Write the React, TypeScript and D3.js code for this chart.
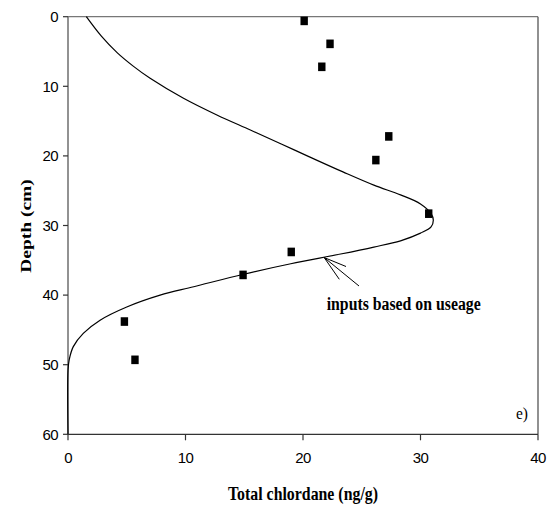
import React from "react";
import * as d3 from "d3";

// Measured samples (Total chlordane ng/g, depth cm)
const obsConc = [20.1, 22.3, 21.6, 27.3, 26.2, 30.7, 19.0, 14.9, 4.8, 5.7];
const obsDepth = [0.6, 3.9, 7.2, 17.2, 20.6, 28.3, 33.8, 37.1, 43.8, 49.3];

// Model profile "inputs based on useage"
const modelDepth = [0, 2.8, 5.2, 7.1, 8.85, 11.72, 14.12, 16.28, 18.29, 20.1, 22.3, 24.2, 25.6, 26.9, 28.3, 29.2, 30.2, 31.1, 32.2, 33.1, 34.1, 35.5, 37.0, 38.8, 40.0, 41.7, 43.6, 45.5, 47.4, 49.3, 50.8, 60];
const modelConc = [1.56, 2.84, 4.2, 5.55, 6.99, 9.83, 12.67, 15.52, 18.15, 20.5, 23.4, 26.03, 28.3, 30.0, 30.9, 31.09, 30.9, 30.0, 28.3, 26.03, 23.2, 18.96, 14.95, 10.7, 7.84, 5.0, 2.73, 1.3, 0.45, 0.1, 0, 0];

const xTicks = [0, 10, 20, 30, 40];
const yTicks = [0, 10, 20, 30, 40, 50, 60];

const xLabel = "Total chlordane (ng/g)";
const yLabel = "Depth (cm)";
const annotation = "inputs based on useage";
const panelTag = "e)";

export default function App() {
  const W = 548, H = 508;
  const left = 68, right = 538, top = 16.7, bottom = 434.3;
  const x = d3.scaleLinear().domain([0, 40]).range([left, right]);
  const y = d3.scaleLinear().domain([0, 60]).range([top, bottom]);

  const line = d3
    .line<number>()
    .x((_, i) => x(modelConc[i]))
    .y((d) => y(d))
    .curve(d3.curveCatmullRom.alpha(0.5));

  const axisCol = "#777";
  const tickFont = "Liberation Sans, Arial, sans-serif";
  const serif = "Liberation Serif, Times New Roman, serif";

  // arrow: tip on the curve near depth 34.6
  const tipX = x(21.8), tipY = y(34.6);

  return (
    <svg width={W} height={H} style={{ position: "absolute", left: 0, top: 0, background: "#fff" }}>
      <rect x={0} y={0} width={W} height={H} fill="#fff" />
      {/* frame */}
      <line x1={left} x2={right} y1={top} y2={top} stroke={axisCol} strokeWidth={1.3} />
      <line x1={right} x2={right} y1={top} y2={bottom} stroke="#555" strokeWidth={1.3} />
      <line x1={left} x2={right} y1={bottom} y2={bottom} stroke="#333" strokeWidth={1.3} />
      <line x1={left} x2={left} y1={top} y2={bottom} stroke={axisCol} strokeWidth={1.6} />
      {/* y ticks */}
      {yTicks.map((t) => (
        <g key={"y" + t}>
          <line x1={left - 5} x2={left} y1={y(t)} y2={y(t)} stroke="#333" strokeWidth={1.2} />
          <text x={58} y={y(t) + 5.3} textAnchor="end" fontFamily={tickFont} fontSize={15} letterSpacing={-0.6} fill="#000">
            {t}
          </text>
        </g>
      ))}
      {/* x ticks */}
      {xTicks.map((t) => (
        <g key={"x" + t}>
          <line x1={x(t)} x2={x(t)} y1={bottom} y2={bottom + 6} stroke="#333" strokeWidth={1.2} />
          <text x={x(t)} y={463} textAnchor="middle" fontFamily={tickFont} fontSize={15} letterSpacing={-0.6} fill="#000">
            {t}
          </text>
        </g>
      ))}
      {/* model curve */}
      <path d={line(modelDepth) || ""} fill="none" stroke="#000" strokeWidth={1.2} />
      {/* observations */}
      {obsConc.map((c, i) => (
        <rect key={"p" + i} x={x(c) - 3.7} y={y(obsDepth[i]) - 4.3} width={7.4} height={8.6} fill="#000" />
      ))}
      {/* annotation arrow */}
      <g stroke="#000" strokeWidth={1}>
        <line x1={tipX} y1={tipY} x2={359} y2={286} />
        <line x1={tipX} y1={tipY} x2={346} y2={266.5} />
        <line x1={tipX} y1={tipY} x2={339.3} y2={279.3} />
      </g>
      <text x={326.7} y={310} fontFamily={serif} fontWeight="bold" fontSize={18} textLength={154} lengthAdjust="spacingAndGlyphs" fill="#000">
        {annotation}
      </text>
      <text x={516} y={418.5} fontFamily={serif} fontSize={17} textLength={12} lengthAdjust="spacingAndGlyphs" fill="#000">
        {panelTag}
      </text>
      {/* axis titles */}
      <text x={228} y={500} fontFamily={serif} fontWeight="bold" fontSize={19} textLength={150} lengthAdjust="spacingAndGlyphs" fill="#000">
        {xLabel}
      </text>
      <text
        transform="translate(31,226) scale(0.8,1) rotate(-90)"
        textAnchor="middle"
        fontFamily={serif}
        fontWeight="bold"
        fontSize={19.5}
        fill="#000"
      >
        {yLabel}
      </text>
    </svg>
  );
}
